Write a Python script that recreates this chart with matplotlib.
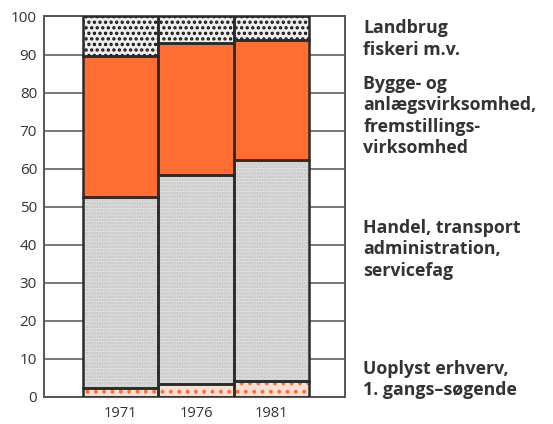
import numpy as np
import matplotlib
matplotlib.use("Agg")
import matplotlib.pyplot as plt

# data (percent of workforce)
years = ["1971", "1976", "1981"]
uoplyst = [2.2, 3.3, 4.0]
handel = [50.4, 55.0, 58.3]
bygge = [37.0, 34.7, 31.4]
landbrug = [10.4, 7.0, 6.3]

labels = [
    ("Landbrug\nfiskeri m.v.", 94.1),
    ("Bygge- og\nanlægsvirksomhed,\nfremstillings-\nvirksomhed", 73.8),
    ("Handel, transport\nadministration,\nservicefag", 38.8),
    ("Uoplyst erhverv,\n1. gangs–søgende", 4.5),
]

plt.rcParams['font.family'] = ['Open Sans', 'DejaVu Sans']
plt.rcParams['hatch.linewidth'] = 1.6

fig = plt.figure(figsize=(5.53, 4.24), dpi=100)
ax = fig.add_axes([0.0796, 0.0644, 0.5444, 0.8967])

x = np.arange(len(years))
ink = '#2a2a2a'

# layers: (values, facecolor, hatch, hatch colour)
layers = [
    (uoplyst, '#f6e0d6', '..', '#ff6d33'),
    (handel, '#e8e8e8', '.....', '#bdbdbd'),
    (bygge, '#ff6d33', None, None),
    (landbrug, '#eeeeee', '...', '#111111'),
]

bottom = np.zeros(len(years))
for vals, fc, hatch, hc in layers:
    vals = np.array(vals)
    if hatch:
        ax.bar(x, vals, bottom=bottom, width=1.0, color=fc, hatch=hatch,
               edgecolor=hc, linewidth=0, zorder=2)
    else:
        ax.bar(x, vals, bottom=bottom, width=1.0, color=fc, linewidth=0, zorder=2)
    ax.bar(x, vals, bottom=bottom, width=1.0, fill=False,
           edgecolor=ink, linewidth=1.8, zorder=3)
    bottom += vals

ax.set_xlim(-1.02, 2.98)
ax.set_ylim(0, 100)
ax.set_yticks(range(0, 101, 10))
ax.set_xticks(x)
ax.set_xticklabels(years)
ax.tick_params(length=0, labelsize=11, colors='#333333', pad=5)
ax.tick_params(axis='x', pad=7, labelsize=10.5)
ax.yaxis.grid(True, color='#555555', linewidth=1.1, zorder=1)
for s in ax.spines.values():
    s.set_color('#555555')
    s.set_linewidth(1.4)

for txt, yv in labels:
    ax.text(1.06, yv / 100, txt, transform=ax.transAxes, ha='left', va='center',
            fontsize=12.8, fontweight='bold', color='#333333', linespacing=1.25)

fig.savefig("out.png", dpi=100)
